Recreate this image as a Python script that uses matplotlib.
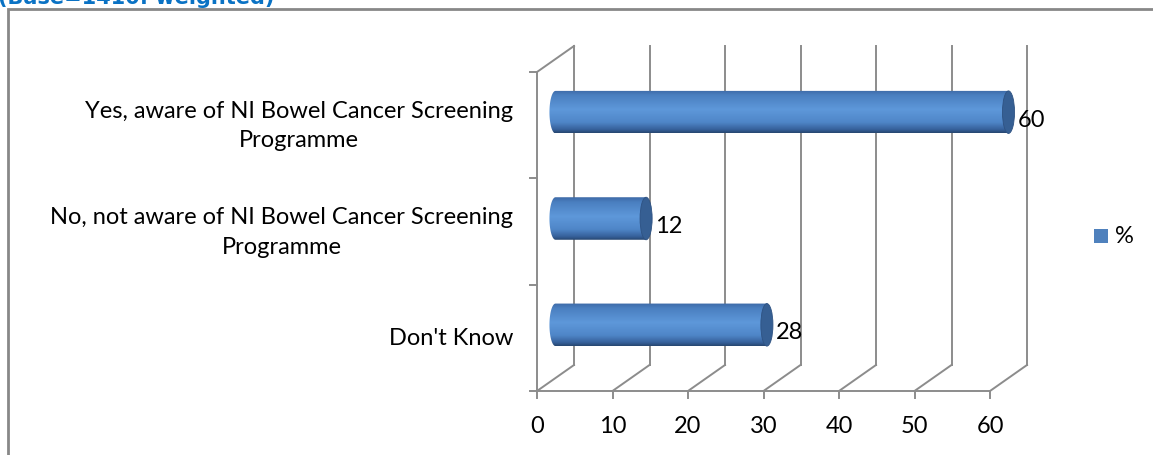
import numpy as np
import matplotlib
matplotlib.use("Agg")
import matplotlib.pyplot as plt
from matplotlib import transforms
from matplotlib.path import Path
from matplotlib.patches import PathPatch, Ellipse, Rectangle
from matplotlib.colors import LinearSegmentedColormap

# ---- data ----
categories = [
    "Don't Know",
    "No, not aware of NI Bowel Cancer Screening\nProgramme",
    "Yes, aware of NI Bowel Cancer Screening\nProgramme",
]
values = [28, 12, 60]
x_ticks = [0, 10, 20, 30, 40, 50, 60]
series_name = "%"
title_text = "(Base=1410: weighted)"

W, H, DPI = 1153, 456, 100
fig = plt.figure(figsize=(W / DPI, H / DPI), dpi=DPI)
fig.patch.set_facecolor("white")
plt.rcParams["font.family"] = ["Lato", "DejaVu Sans"]
FS = 17

# front plane of the plot area, in pixels
x0_px, x1_px = 537, 990
yb_px, yt_px = 392, 73
ax = fig.add_axes([x0_px / W, 1 - yb_px / H, (x1_px - x0_px) / W, (yb_px - yt_px) / H])
ax.set_xlim(0, 60)
ax.set_ylim(0, len(categories))
ax.set_autoscale_on(False)
ax.axis("off")

depth_dx, depth_dy = 37, 26  # depth offset of back wall (px)
grid_col = "#8c8c8c"
lw = 1.4


def shifted(dx, dy):
    return ax.transData + transforms.ScaledTranslation(dx / DPI, dy / DPI, fig.dpi_scale_trans)


def fig_line(p0, p1):
    fig.add_artist(plt.Line2D([p0[0] / W, p1[0] / W], [p0[1] / H, p1[1] / H],
                              color=grid_col, lw=lw, zorder=1))


back = shifted(depth_dx, depth_dy)
mid = shifted(depth_dx / 2, depth_dy / 2)
ny = len(categories)

# back wall gridlines and floor diagonals
for t in x_ticks:
    ax.plot([t, t], [0, ny], color=grid_col, lw=lw, transform=back, clip_on=False, zorder=1)
    fig_line(ax.transData.transform((t, 0)), back.transform((t, 0)))
# top-left diagonal of side wall
fig_line(ax.transData.transform((0, ny)), back.transform((0, ny)))

# front axes lines and ticks
ax.plot([0, 0], [0, ny], color=grid_col, lw=lw, clip_on=False, zorder=2)
ax.plot([0, 60], [0, 0], color=grid_col, lw=lw, clip_on=False, zorder=2)
for k in range(ny + 1):
    a = ax.transData.transform((0, k))
    fig_line((a[0] - 7, a[1]), a)
for t in x_ticks:
    a = ax.transData.transform((t, 0))
    fig_line(a, (a[0], a[1] - 7))
    ax.text(t, 0, str(t), transform=shifted(0, -35), ha="center", va="center", fontsize=FS,
            color="black")

# cylinder bars
cmap = LinearSegmentedColormap.from_list(
    "cyl", [(0.0, "#3d6aa6"), (0.12, "#4a7fc0"), (0.45, "#5e98da"), (0.75, "#4f86c8"),
            (0.92, "#36609a"), (1.0, "#26466f")])
grad = np.linspace(0, 1, 256).reshape(-1, 1)
bar_h = 0.4
cap_w = 0.8  # half-width of end ellipse in data units
for i, v in enumerate(values):
    yc = i + 0.5
    ylo, yhi = yc - bar_h / 2, yc + bar_h / 2
    # body outline: left half ellipse + rectangle to the value
    th = np.linspace(np.pi / 2, 3 * np.pi / 2, 40)
    lx = 0 + cap_w * np.cos(th)
    ly = yc + bar_h / 2 * np.sin(th)
    verts = list(zip(lx, ly)) + [(v, ylo), (v, yhi), (lx[0], ly[0])]
    body = PathPatch(Path(verts, closed=True), transform=mid, facecolor="none",
                     edgecolor="none", clip_on=False)
    ax.add_patch(body)
    im = ax.imshow(grad, cmap=cmap, aspect="auto", extent=[-cap_w, v, ylo, yhi],
                   origin="upper", interpolation="bilinear", zorder=3)
    im.set_transform(mid)
    im.set_clip_path(body)
    im.set_clip_box(fig.bbox)
    cap = Ellipse((v, yc), 2 * cap_w, bar_h, transform=mid, facecolor="#365f93",
                  edgecolor="#2e5282", lw=0.6, zorder=4, clip_on=False)
    ax.add_patch(cap)
    ax.text(v, yc, str(v), transform=shifted(depth_dx / 2 + 9, depth_dy / 2 - 7),
            ha="left", va="center", fontsize=FS, color="black", zorder=5)

# category labels
for i, c in enumerate(categories):
    ax.text(0, i + 0.5, c, transform=shifted(-24, 0), ha="right", va="center",
            multialignment="center", fontsize=FS, color="black", linespacing=1.5)

# legend
fig.add_artist(Rectangle((1094 / W, 1 - 244 / H), 14 / W, 14 / H, facecolor="#4f81bd",
                         edgecolor="none"))
fig.text(1115 / W, 1 - 237 / H, series_name, ha="left", va="center", fontsize=FS)

# chart frame
fig.add_artist(Rectangle((8 / W, -0.1), 1.2, 1 - 10 / H + 0.1, facecolor="none",
                         edgecolor="#888888", lw=2.0))

# title, partly above the frame
fig.text(-2 / W, 1 - 4 / H, title_text, ha="left", va="baseline", fontsize=15,
         fontweight="bold", color="#0a72c4", family="DejaVu Sans")

fig.savefig("out.png", dpi=DPI)
